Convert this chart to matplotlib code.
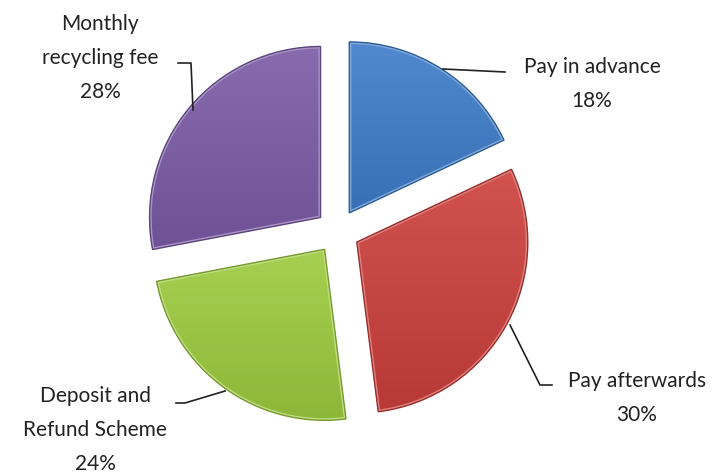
import matplotlib

matplotlib.use("Agg")

import matplotlib.pyplot as plt
import numpy as np
from matplotlib.colors import to_rgb
from matplotlib.patches import PathPatch

labels = ["Pay in advance", "Pay afterwards", "Deposit and\nRefund Scheme", "Monthly\nrecycling fee"]
shares = [18, 30, 24, 28]
colors = ["#3d7cc8", "#cc3f3b", "#9dcb3e", "#7b5aa6"]

W, H = 722, 475

fig = plt.figure(figsize=(W / 100, H / 100), dpi=100)
ax = fig.add_axes([0, 0, 1, 1])

wedges, _ = ax.pie(
    shares,
    center=(337.5, H - 231.5),
    radius=171,
    explode=[22] * 4,
    startangle=90,
    counterclock=False,
    colors=colors,
    wedgeprops=dict(linewidth=0),
    frame=True,
)
ax.set_xlim(0, W)
ax.set_ylim(0, H)
ax.set_aspect("equal")
ax.axis("off")

# soft shading inside each slice
grad = np.linspace(0, 1, 256).reshape(-1, 1)
for w, c in zip(wedges, colors):
    base = np.array(to_rgb(c))
    light = base + (1 - base) * 0.10
    dark = base * 0.90
    img = light[None, None, :] * (1 - grad[:, :, None]) + dark[None, None, :] * grad[:, :, None]
    path = w.get_path().transformed(w.get_patch_transform())
    bb = path.get_extents()
    im = ax.imshow(img, extent=[bb.x0, bb.x1, bb.y0, bb.y1], origin="upper",
                   aspect="auto", zorder=2)
    im.set_clip_path(w)
    w.set_zorder(1)
    # bevel-like rim
    ax.add_patch(PathPatch(path, fill=False, edgecolor=tuple(base + (1 - base) * 0.35),
                           linewidth=3, zorder=3, clip_path=w))
    ax.add_patch(PathPatch(path, fill=False, edgecolor=tuple(base * 0.75),
                           linewidth=1.0, zorder=3))

font = dict(family=["Lato", "DejaVu Sans"], fontsize=15, color="#222222",
            ha="center", va="center", linespacing=1.85, zorder=5)

ax.text(592, H - 84, f"{labels[0]}\n{shares[0]}%", **font)
ax.text(637, H - 398, f"{labels[1]}\n{shares[1]}%", **font)
ax.text(95, H - 430, f"{labels[2]}\n{shares[2]}%", **font)
ax.text(100, H - 58, f"{labels[3]}\n{shares[3]}%", **font)

lk = dict(color="#222222", linewidth=1.2, zorder=4)
ax.plot([443, 505], [H - 69, H - 72], **lk)
ax.plot([510, 540, 552], [H - 325, H - 385, H - 385], **lk)
ax.plot([225, 185, 176], [H - 391, H - 403, H - 403], **lk)
ax.plot([178, 191, 193], [H - 63, H - 63, H - 110], **lk)

fig.savefig("out.png", dpi=100)
